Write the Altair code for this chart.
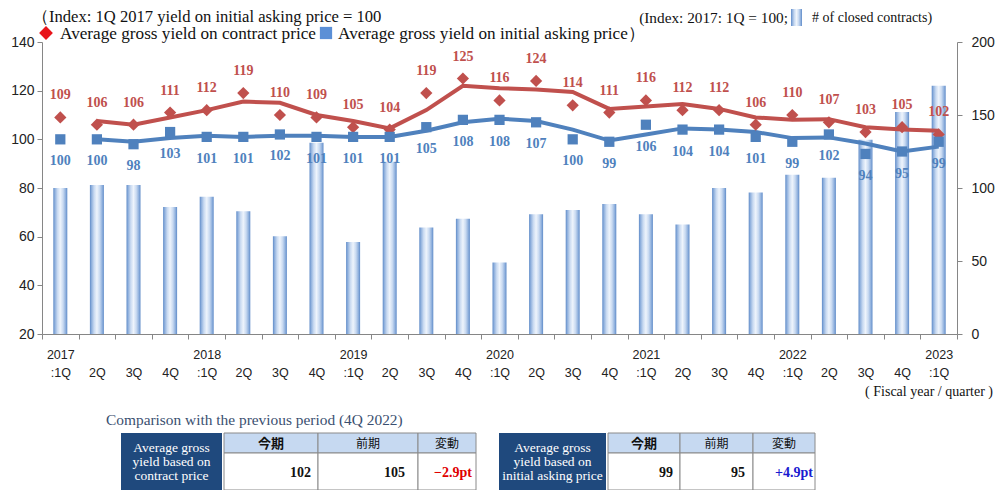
import altair as alt
import pandas as pd

# ---------------- data ----------------
periods = ["2017 :1Q", "2017 2Q", "2017 3Q", "2017 4Q",
           "2018 :1Q", "2018 2Q", "2018 3Q", "2018 4Q",
           "2019 :1Q", "2019 2Q", "2019 3Q", "2019 4Q",
           "2020 :1Q", "2020 2Q", "2020 3Q", "2020 4Q",
           "2021 :1Q", "2021 2Q", "2021 3Q", "2021 4Q",
           "2022 :1Q", "2022 2Q", "2022 3Q", "2022 4Q",
           "2023 :1Q"]
contract_yield = [109, 106, 106, 111, 112, 119, 110, 109, 105, 104, 119, 125, 116,
                  124, 114, 111, 116, 112, 112, 106, 110, 107, 103, 105, 102]
asking_yield = [100, 100, 98, 103, 101, 101, 102, 101, 101, 101, 105, 108, 108,
                107, 100, 99, 106, 104, 104, 101, 99, 102, 94, 95, 99]
contract_trend = [None, 107.5, 106, 109, 112, 115.5, 115, 110, 107.5, 104.5, 112, 122, 121,
                  120.5, 119.5, 112.5, 113.5, 114.5, 112.5, 109, 108, 108.3, 105, 104, 103.5]
asking_trend = [None, 100, 99, 100.5, 101.5, 101, 101.5, 101.5, 101, 101, 103.5, 107, 108.5,
                107.5, 104, 99.5, 102, 104.5, 104, 103, 100.5, 100.8, 98.3, 95, 97]
contracts = [100, 102, 102, 87, 94, 84, 67, 131, 63, 118, 73, 79, 49,
             82, 85, 89, 82, 75, 100, 97, 109, 107, 133, 152, 170]

table_cols = ["今期", "前期", "変動"]
contract_table = ["102", "105", "−2.9pt"]
asking_table = ["99", "95", "+4.9pt"]

df = pd.DataFrame({
    "period": periods,
    "contract": contract_yield,
    "asking": asking_yield,
    "contract_trend": contract_trend,
    "asking_trend": asking_trend,
    "contracts": contracts,
})

RED = "#c0504d"
BLUE = "#4f81bd"
AXC = "#868686"
SERIF = "Liberation Serif"
SANS = "Liberation Sans"

W, H = 915, 292

bar_grad = alt.Gradient(
    gradient="linear", x1=0, x2=1, y1=0, y2=0,
    stops=[alt.GradientStop(color="#5f8bc8", offset=0),
           alt.GradientStop(color="#8fb0dd", offset=0.12),
           alt.GradientStop(color="#c9daf1", offset=0.3),
           alt.GradientStop(color="#eef4fc", offset=0.5),
           alt.GradientStop(color="#c9daf1", offset=0.7),
           alt.GradientStop(color="#8fb0dd", offset=0.88),
           alt.GradientStop(color="#5f8bc8", offset=1)])

x_enc = alt.X(
    "period:N", sort=periods, title=None,
    scale=alt.Scale(paddingInner=0, paddingOuter=0),
    axis=alt.Axis(
        labelExpr="split(datum.value, ' ')[1] == ':1Q' ? split(datum.value, ' ') : ['', split(datum.value, ' ')[1]]",
        labelAngle=0, labelFont=SANS, labelFontSize=12.5, labelColor="#222",
        labelLineHeight=18, labelPadding=9, tickBand="extent", tickSize=5,
        domainColor=AXC, tickColor=AXC, grid=False))

left_axis = alt.Axis(values=[20, 40, 60, 80, 100, 120, 140], orient="left", title=None,
                     tickSize=5, labelPadding=3, labelFont=SANS, labelFontSize=14,
                     labelColor="#222", domainColor=AXC, tickColor=AXC, grid=False)
left_scale = alt.Scale(domain=[20, 140], nice=False, zero=False)

base = alt.Chart(df)

bars = base.mark_bar(size=14, color=bar_grad).encode(
    x=x_enc,
    y=alt.Y("contracts:Q", scale=alt.Scale(domain=[0, 200], nice=False),
            axis=alt.Axis(values=[0, 50, 100, 150, 200], orient="right", title=None,
                          tickSize=5, labelPadding=9, labelFont=SANS, labelFontSize=14,
                          labelColor="#222", domainColor=AXC, tickColor=AXC, grid=False)))

def ly(field):
    return alt.Y(f"{field}:Q", scale=left_scale, axis=left_axis)

red_line = base.mark_line(color=RED, strokeWidth=4).encode(x=x_enc, y=ly("contract_trend"))
blue_line = base.mark_line(color=BLUE, strokeWidth=4).encode(x=x_enc, y=ly("asking_trend"))
red_pts = base.mark_point(shape="diamond", filled=True, size=150, color=RED, opacity=1).encode(
    x=x_enc, y=ly("contract"))
blue_pts = base.mark_point(shape="square", filled=True, size=105, color=BLUE, opacity=1).encode(
    x=x_enc, y=ly("asking"))
red_txt = base.mark_text(font=SERIF, fontWeight="bold", fontSize=14, color=RED, dy=-22).encode(
    x=x_enc, y=ly("contract"), text="contract:Q")
blue_txt = base.mark_text(font=SERIF, fontWeight="bold", fontSize=14, color=BLUE, dy=22).encode(
    x=x_enc, y=ly("asking"), text="asking:Q")

left = alt.layer(red_line, blue_line, red_pts, blue_pts, red_txt, blue_txt)

# ---------------- decorations (legend, notes, tables) ----------------
def txt(s, x, y, **kw):
    return alt.Chart(pd.DataFrame({"t": [s]})).mark_text(**kw).encode(
        x=alt.value(x), y=alt.value(y), text="t:N")

def box(x1, x2, y1, y2, **kw):
    return alt.Chart(pd.DataFrame({"a": [0]})).mark_rect(**kw).encode(
        x=alt.value(x1), x2=alt.value(x2), y=alt.value(y1), y2=alt.value(y2))

def sym(shape, x, y, size, color):
    return alt.Chart(pd.DataFrame({"a": [0]})).mark_point(
        shape=shape, filled=True, size=size, color=color, opacity=1).encode(
        x=alt.value(x), y=alt.value(y))

deco = []
deco.append(txt("（Index: 1Q 2017 yield on initial asking price = 100", -10, -25.5,
                font=SERIF, fontSize=16.6, align="left", baseline="middle", color="#111"))
deco.append(sym("diamond", 4, -9, 190, "#e8141a"))
deco.append(txt("Average gross yield on contract price", 18, -8.5,
                font=SERIF, fontSize=17.2, align="left", baseline="middle", color="#111"))
deco.append(sym("square", 284, -9, 150, "#5b8fd6"))
deco.append(txt("Average gross yield on initial asking price）", 296, -8.5,
                font=SERIF, fontSize=17.2, align="left", baseline="middle", color="#111"))
deco.append(txt("(Index: 2017: 1Q = 100;", 746, -24,
                font=SERIF, fontSize=15.3, align="right", baseline="middle", color="#111"))
deco.append(box(749, 760, -33, -16, color=bar_grad))
deco.append(txt("# of closed contracts)", 770, -24,
                font=SERIF, fontSize=14, align="left", baseline="middle", color="#111"))
deco.append(txt("( Fiscal year / quarter )", 951, 350,
                font=SERIF, fontSize=14, align="right", baseline="middle", color="#111"))
deco.append(txt("Comparison with the previous period (4Q 2022)", 64, 378,
                font=SERIF, fontSize=15.4, align="left", baseline="middle", color="#3a4f70"))

TOP, MID, BOT = 391, 411, 448
HEAD_FILL = "#c6d9f1"
DARK = "#1f497d"
GRID = "#8a8a8a"

def table(dark_x1, dark_x2, edges, dark_text, values, pads, val_colors):
    parts = []
    parts.append(box(dark_x1, dark_x2, TOP, BOT, color=DARK))
    parts.append(txt(dark_text, (dark_x1 + dark_x2) / 2, (TOP + BOT) / 2 - 14,
                     font=SERIF, fontSize=13.5, align="center", baseline="middle",
                     color="white", lineBreak="\n", lineHeight=14))
    for i in range(3):
        x1, x2 = edges[i], edges[i + 1]
        parts.append(box(x1, x2, TOP, MID, fill=HEAD_FILL, stroke=GRID, strokeWidth=1))
        parts.append(box(x1, x2, MID, BOT, fill="white", stroke=GRID, strokeWidth=1))
        parts.append(txt(table_cols[i], (x1 + x2) / 2, (TOP + MID) / 2 + 1,
                         font="Noto Sans CJK JP", fontSize=13 if i == 0 else 12,
                         fontWeight="bold" if i == 0 else "normal",
                         align="center", baseline="middle", color="#111"))
        parts.append(txt(values[i], x2 - pads[i], (MID + BOT) / 2 + 1,
                         font=SERIF, fontSize=14, fontWeight="bold",
                         align="right", baseline="middle", color=val_colors[i]))
    return parts

deco += table(79, 180, [182, 276, 376, 434],
              "Average gross\nyield based on\ncontract price",
              contract_table, [7, 13, 4], ["#111", "#111", "#e00000"])
deco += table(457, 564, [566, 638, 711, 773],
              "Average gross\nyield based on\ninitial asking price",
              asking_table, [7, 8, 2], ["#111", "#111", "#1a1ad0"])

chart = alt.layer(bars, left, *deco).resolve_scale(y="independent").properties(
    width=W, height=H,
    padding={"left": 34, "top": 34, "right": 40, "bottom": 156},
    autosize=alt.AutoSizeParams(type="none"),
).configure_view(stroke=None)

chart.save("out.html", embed_options={"renderer": "svg", "actions": False})
